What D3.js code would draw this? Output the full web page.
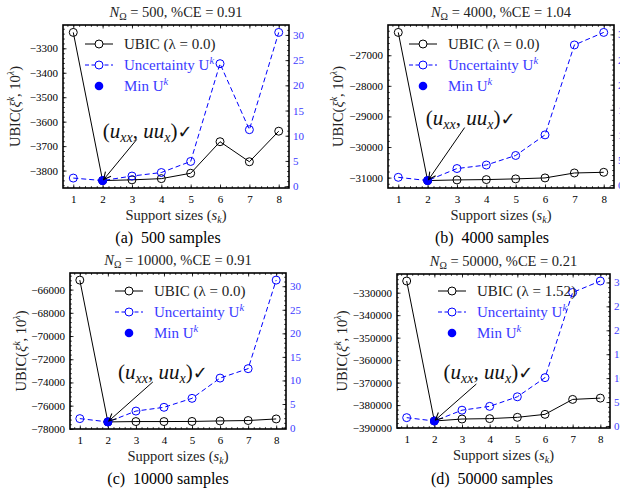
<!doctype html>
<html lang="en">
<head>
<meta charset="UTF-8" />
<title>UBIC and uncertainty vs support size</title>
<script src="https://d3js.org/d3.v7.min.js"></script>
<style>
  body { margin: 0; background: #fff; }
  svg { display: block; font-family: 'Liberation Serif', serif; }
  .tick text { font-family: 'Liberation Serif', serif; font-size: 11px; }
</style>
</head>
<body>
<svg width="620" height="493"></svg>
<script>
// values
const sizes = [1, 2, 3, 4, 5, 6, 7, 8];

const ubic500 = [-3235, -3841, -3838, -3833, -3811, -3682, -3764, -3639];
const unc500 = [1.6, 1.1, 2.0, 2.7, 4.9, 24.3, 11.2, 30.5];

const ubic4000 = [-26254, -31097, -31075, -31064, -31041, -31010, -30848, -30826];
const unc4000 = [1.55, 0.9, 3.3, 4.0, 5.9, 10.0, 27.9, 30.4];

const ubic10000 = [-65180, -77400, -77370, -77370, -77360, -77316, -77280, -77145];
const unc10000 = [1.9, 1.2, 3.5, 4.3, 6.2, 10.5, 12.5, 31.3];

const ubic50000 = [-324800, -387080, -386200, -386020, -385440, -384120, -377480, -376900];
const unc50000 = [1.74, 1.04, 3.3, 4.1, 6.1, 10.1, 27.9, 30.3];

const sampleCounts = [500, 4000, 10000, 50000];
const ceValues = ['0.91', '1.04', '0.91', '0.21'];
const lambdas = ['0.0', '0.0', '0.0', '1.52'];
const captions = ['(a)  500 samples', '(b)  4000 samples', '(c)  10000 samples', '(d)  50000 samples'];

const ubicSeries = [ubic500, ubic4000, ubic10000, ubic50000];
const uncSeries = [unc500, unc4000, unc10000, unc50000];

// panel layout (pixels)
const frames = [
  { left: 63, right: 289, top: 25, bottom: 188, ylab: 15, capX: 168, capY: 237, leg: [22, 19], note: [45, -50, 34, -41] },
  { left: 388, right: 614, top: 25, bottom: 188, ylab: 338, capX: 492, capY: 237, leg: [21, 19], note: [43, -63, 37, -53] },
  { left: 70, right: 286, top: 273, bottom: 429, ylab: 21, capX: 168, capY: 478, leg: [45, 18], note: [55, -50, 45, -40] },
  { left: 397, right: 610, top: 274, bottom: 428, ylab: 342, capX: 492, capY: 478, leg: [41, 17], note: [54, -49, 42, -37] }
];

const blue = '#0000ff';
const textBlue = '#3a3aff';
const svg = d3.select('svg');

svg.append('defs').append('marker')
  .attr('id', 'arrow')
  .attr('viewBox', '0 0 10 10')
  .attr('refX', 9).attr('refY', 5)
  .attr('markerWidth', 9).attr('markerHeight', 9)
  .attr('markerUnits', 'userSpaceOnUse')
  .attr('orient', 'auto')
  .append('path')
  .attr('d', 'M1,1 L9,5 L1,9')
  .attr('fill', 'none')
  .attr('stroke', '#000')
  .attr('stroke-width', 1.2);

const pad = (arr) => {
  const lo = d3.min(arr), hi = d3.max(arr), m = (hi - lo) * 0.05;
  return [lo - m, hi + m];
};

function minorValues(scale, count) {
  const [lo, hi] = scale.domain().slice().sort(d3.ascending);
  const step = d3.tickStep(lo, hi, count) / 5;
  return d3.range(Math.ceil(lo / step) * step, hi, step);
}

function tidy(sel) {
  sel.select('.domain').remove();
  sel.selectAll('.tick line').attr('stroke', '#000').attr('stroke-width', 0.8);
}

function drawPanel(i) {
  const f = frames[i];
  const ubic = ubicSeries[i];
  const unc = uncSeries[i];
  const g = svg.append('g');

  const x = d3.scaleLinear().domain([0.65, 8.35]).range([f.left, f.right]);
  const y = d3.scaleLinear().domain(pad(ubic)).range([f.bottom, f.top]);
  const y2 = d3.scaleLinear().domain(pad(unc)).range([f.bottom, f.top]);
  const xMinor = d3.range(0.8, 8.35, 0.2);

  // x axis, bottom and top
  g.append('g').attr('transform', `translate(0,${f.bottom})`)
    .call(d3.axisBottom(x).tickValues(sizes).tickSize(-3.5).tickPadding(7).tickFormat(d3.format('d')))
    .call(tidy);
  g.append('g').attr('transform', `translate(0,${f.bottom})`)
    .call(d3.axisBottom(x).tickValues(xMinor).tickSize(-1.8).tickFormat(''))
    .call(tidy);
  g.append('g').attr('transform', `translate(0,${f.top})`)
    .call(d3.axisTop(x).tickValues(sizes).tickSize(-3.5).tickFormat(''))
    .call(tidy);
  g.append('g').attr('transform', `translate(0,${f.top})`)
    .call(d3.axisTop(x).tickValues(xMinor).tickSize(-1.8).tickFormat(''))
    .call(tidy);

  // left axis (UBIC)
  g.append('g').attr('transform', `translate(${f.left},0)`)
    .call(d3.axisLeft(y).ticks(7).tickSize(-3.5).tickPadding(5).tickFormat(d3.format('d')))
    .call(tidy);
  g.append('g').attr('transform', `translate(${f.left},0)`)
    .call(d3.axisLeft(y).tickValues(minorValues(y, 7)).tickSize(-1.8).tickFormat(''))
    .call(tidy);

  // right axis (uncertainty)
  const right = g.append('g').attr('transform', `translate(${f.right},0)`)
    .call(d3.axisRight(y2).ticks(7).tickSize(-3.5).tickPadding(4).tickFormat(d3.format('d')))
    .call(tidy);
  right.selectAll('.tick text').attr('fill', textBlue);
  g.append('g').attr('transform', `translate(${f.right},0)`)
    .call(d3.axisRight(y2).tickValues(minorValues(y2, 7)).tickSize(-1.8).tickFormat(''))
    .call(tidy);

  // UBIC line
  g.append('path')
    .datum(ubic)
    .attr('d', d3.line().x((d, j) => x(sizes[j])).y((d) => y(d)))
    .attr('fill', 'none').attr('stroke', '#000').attr('stroke-width', 1);
  g.selectAll('.ubic-pt').data(ubic).enter().append('circle')
    .attr('cx', (d, j) => x(sizes[j])).attr('cy', (d) => y(d)).attr('r', 4)
    .attr('fill', 'none').attr('stroke', '#000').attr('stroke-width', 1);

  // uncertainty line
  g.append('path')
    .datum(unc)
    .attr('d', d3.line().x((d, j) => x(sizes[j])).y((d) => y2(d)))
    .attr('fill', 'none').attr('stroke', blue).attr('stroke-width', 1)
    .attr('stroke-dasharray', '5,3');
  g.selectAll('.unc-pt').data(unc).enter().append('circle')
    .attr('cx', (d, j) => x(sizes[j])).attr('cy', (d) => y2(d)).attr('r', 4)
    .attr('fill', 'none').attr('stroke', blue).attr('stroke-width', 1);

  // min uncertainty
  const iMin = d3.minIndex(unc);
  g.append('circle')
    .attr('cx', x(sizes[iMin])).attr('cy', y2(unc[iMin])).attr('r', 4.3)
    .attr('fill', blue);

  // frame
  g.append('rect')
    .attr('x', f.left).attr('y', f.top)
    .attr('width', f.right - f.left).attr('height', f.bottom - f.top)
    .attr('fill', 'none').attr('stroke', '#000').attr('stroke-width', 1.6);

  // title
  const title = g.append('text')
    .attr('x', (f.left + f.right) / 2).attr('y', f.top - 8)
    .attr('text-anchor', 'middle').attr('font-size', 14.5).attr('fill', '#222');
  title.append('tspan').attr('font-style', 'italic').text('N');
  title.append('tspan').attr('font-size', 10).attr('dy', 3).text('Ω');
  title.append('tspan').attr('dy', -3).text(` = ${sampleCounts[i]}, %CE = ${ceValues[i]}`);

  // axis labels
  const xl = g.append('text')
    .attr('x', (f.left + f.right) / 2).attr('y', f.bottom + 32)
    .attr('text-anchor', 'middle').attr('font-size', 14.5).attr('fill', '#222');
  xl.append('tspan').text('Support sizes (');
  xl.append('tspan').attr('font-style', 'italic').text('s');
  xl.append('tspan').attr('font-style', 'italic').attr('font-size', 10).attr('dy', 3).text('k');
  xl.append('tspan').attr('dy', -3).text(')');

  const yl = g.append('text')
    .attr('transform', `translate(${f.ylab},${(f.top + f.bottom) / 2}) rotate(-90)`)
    .attr('dy', '0.35em')
    .attr('text-anchor', 'middle').attr('font-size', 14.5).attr('fill', '#222');
  yl.append('tspan').text('UBIC(');
  yl.append('tspan').attr('font-style', 'italic').text('ξ');
  yl.append('tspan').attr('font-style', 'italic').attr('font-size', 10).attr('dy', -6).text('k');
  yl.append('tspan').attr('dy', 6).text(', 10');
  yl.append('tspan').attr('font-style', 'italic').attr('font-size', 10).attr('dy', -6).text('λ');
  yl.append('tspan').attr('dy', 6).text(')');

  // legend
  const lx = f.left + f.leg[0], ly = f.top + f.leg[1];
  const rows = [
    { color: '#000', dash: null, open: true, label: [`UBIC (λ = ${lambdas[i]})`] },
    { color: blue, dash: '4,2.5', open: true, label: ['Uncertainty U', 'k'] },
    { color: blue, dash: null, open: false, label: ['Min U', 'k'] }
  ];
  rows.forEach((r, k) => {
    const ry = ly + k * 21;
    if (r.open) {
      g.append('line')
        .attr('x1', lx).attr('x2', lx + 28).attr('y1', ry).attr('y2', ry)
        .attr('stroke', r.color).attr('stroke-width', 1)
        .attr('stroke-dasharray', r.dash);
      g.append('circle').attr('cx', lx + 14).attr('cy', ry).attr('r', 4)
        .attr('fill', '#fff').attr('stroke', r.color).attr('stroke-width', 1);
    } else {
      g.append('circle').attr('cx', lx + 14).attr('cy', ry).attr('r', 4.3).attr('fill', blue);
    }
    const t = g.append('text')
      .attr('x', lx + 39).attr('y', ry).attr('dy', '0.35em')
      .attr('font-size', 15).attr('fill', k === 0 ? '#222' : textBlue);
    t.append('tspan').text(r.label[0]);
    if (r.label[1]) {
      t.append('tspan').attr('font-style', 'italic').attr('font-size', 10.5).attr('dy', -6).text(r.label[1]);
    }
  });

  // annotation on the chosen support size
  const px = x(sizes[iMin]), py = y(ubic[iMin]);
  g.append('line')
    .attr('x1', px + f.note[2]).attr('y1', py + f.note[3])
    .attr('x2', px + 1).attr('y2', py - 1)
    .attr('stroke', '#000').attr('stroke-width', 1)
    .attr('marker-end', 'url(#arrow)');
  const note = g.append('text')
    .attr('x', px + f.note[0]).attr('y', py + f.note[1]).attr('dy', '0.35em')
    .attr('text-anchor', 'middle').attr('font-size', 21).attr('fill', '#111');
  note.append('tspan').text('(');
  note.append('tspan').attr('font-style', 'italic').text('u');
  note.append('tspan').attr('font-style', 'italic').attr('font-size', 14).attr('dy', 4).text('xx');
  note.append('tspan').attr('dy', -4).text(', ');
  note.append('tspan').attr('font-style', 'italic').text('uu');
  note.append('tspan').attr('font-style', 'italic').attr('font-size', 14).attr('dy', 4).text('x');
  note.append('tspan').attr('dy', -4).text(')');
  note.append('tspan').attr('font-family', 'DejaVu Sans').attr('font-size', 18).text('✓');

  // caption
  svg.append('text')
    .attr('x', f.capX).attr('y', f.capY).attr('dy', '0.35em')
    .attr('text-anchor', 'middle').attr('font-size', 16).attr('fill', '#000')
    .attr('xml:space', 'preserve')
    .text(captions[i]);
}

d3.range(4).forEach(drawPanel);
</script>
</body>
</html>
